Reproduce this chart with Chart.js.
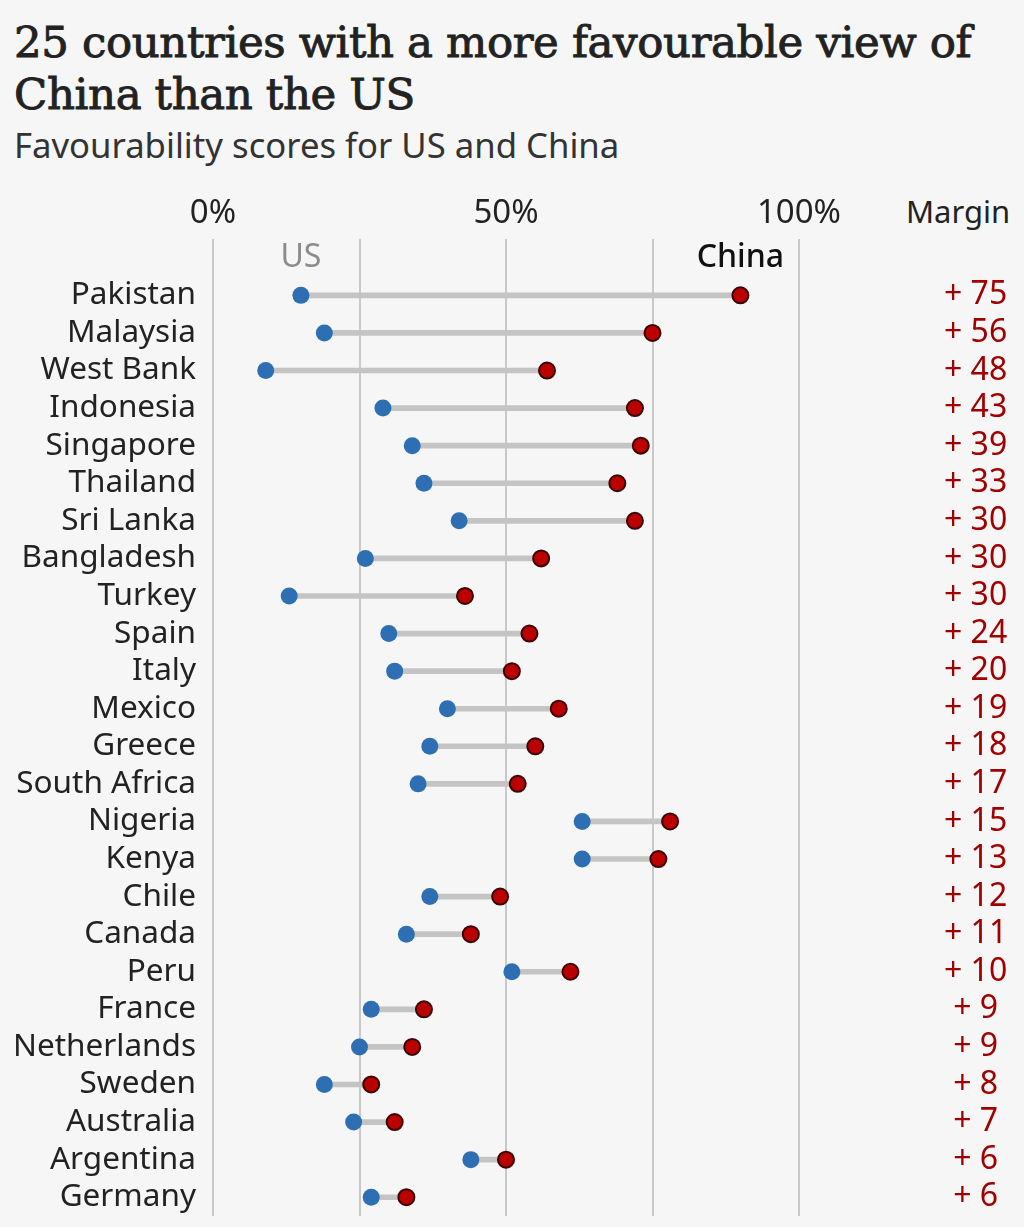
<!DOCTYPE html>
<html>
<head>
<meta charset="utf-8">
<script src="https://cdn.jsdelivr.net/npm/chart.js@4.4.1/dist/chart.umd.min.js"></script>
<style>
  html, body { margin: 0; padding: 0; background: #f6f6f6; }
  body { width: 1024px; height: 1227px; position: relative; overflow: hidden; }
  h1 {
    position: absolute; left: 14px; top: 16px; margin: 0;
    font-family: "DejaVu Serif", serif; font-weight: normal;
    font-size: 43.5px; line-height: 52px; color: #222; letter-spacing: -0.4px;
    -webkit-text-stroke: 0.9px #222;
  }
  .sub {
    position: absolute; left: 14px; top: 121px;
    font-family: "Noto Sans", sans-serif; font-size: 34.7px; color: #333;
  }
  .margin-head {
    position: absolute; left: 906px; top: 190px;
    font-family: "Noto Sans", sans-serif; font-size: 31px; color: #222;
  }
  #wrap { position: absolute; left: 0; top: 185px; width: 1024px; height: 1042px; }
</style>
</head>
<body>
<h1>25 countries with a more favourable view of<br>China than the US</h1>
<div class="sub">Favourability scores for US and China</div>
<div class="margin-head">Margin</div>
<div id="wrap"><canvas id="chart"></canvas></div>

<script>
// ── 数据 ──
var countries = ['Pakistan', 'Malaysia', 'West Bank', 'Indonesia', 'Singapore', 'Thailand',
  'Sri Lanka', 'Bangladesh', 'Turkey', 'Spain', 'Italy', 'Mexico', 'Greece', 'South Africa',
  'Nigeria', 'Kenya', 'Chile', 'Canada', 'Peru', 'France', 'Netherlands', 'Sweden',
  'Australia', 'Argentina', 'Germany'];
var usScores    = [15, 19, 9, 29, 34, 36, 42, 26, 13, 30, 31, 40, 37, 35, 63, 63, 37, 33, 51, 27, 25, 19, 24, 44, 27];
var chinaScores = [90, 75, 57, 72, 73, 69, 72, 56, 43, 54, 51, 59, 55, 52, 78, 76, 49, 44, 61, 36, 34, 27, 31, 50, 33];
var margins     = ['+ 75', '+ 56', '+ 48', '+ 43', '+ 39', '+ 33', '+ 30', '+ 30', '+ 30', '+ 24',
  '+ 20', '+ 19', '+ 18', '+ 17', '+ 15', '+ 13', '+ 12', '+ 11', '+ 10', '+ 9', '+ 9', '+ 8',
  '+ 7', '+ 6', '+ 6'];
var xTicks = [0, 50, 100];

// 顶部空一行放 US / China 标注
var rowLabels = [''].concat(countries);
var usData = [null].concat(usScores);
var chinaData = [null].concat(chinaScores);
var spanData = [null].concat(usScores.map(function(v, i) { return [v, chinaScores[i]]; }));

var FONT = '"Noto Sans", sans-serif';

// 竖轴的 tick padding 会被加到上下留白里，这里清掉
function noVPad(w) {
  return function(s) { s.width = w; s.paddingTop = 0; s.paddingBottom = 0; };
}

// ── 标注插件 ──
var legendLabels = {
  id: 'legendLabels',
  afterDatasetsDraw: function(chart) {
    var ctx = chart.ctx;
    var x = chart.scales.x, y = chart.scales.y;
    var yy = y.getPixelForValue(0);
    ctx.save();
    ctx.font = '32px ' + FONT;
    ctx.textAlign = 'center';
    ctx.textBaseline = 'middle';
    ctx.fillStyle = '#8c8c8c';
    ctx.fillText('US', x.getPixelForValue(usScores[0]), yy);
    ctx.fillStyle = '#111';
    ctx.font = '500 32px ' + FONT;
    ctx.fillText('China', x.getPixelForValue(chinaScores[0]), yy);
    ctx.restore();
  }
};

new Chart(document.getElementById('chart'), {
  type: 'bar',
  data: {
    labels: rowLabels,
    datasets: [
      {
        type: 'bar', indexAxis: 'y', data: spanData,
        backgroundColor: '#c4c4c4', barThickness: 5, order: 3
      },
      {
        type: 'line', indexAxis: 'y', data: usData, showLine: false,
        pointRadius: 8.5, pointBackgroundColor: '#2e6fb3', pointBorderWidth: 0, order: 2
      },
      {
        type: 'line', indexAxis: 'y', data: chinaData, showLine: false,
        pointRadius: 8, pointBackgroundColor: '#bb0000', pointBorderColor: '#3a0505',
        pointBorderWidth: 2, order: 1
      }
    ]
  },
  options: {
    indexAxis: 'y',
    responsive: true, maintainAspectRatio: false,
    animation: false,
    layout: { padding: { bottom: 11 } },
    plugins: { legend: { display: false }, tooltip: { enabled: false } },
    scales: {
      x: {
        position: 'top', min: 0, max: 100,
        afterBuildTicks: function(s) {
          s.ticks = [0, 25, 50, 75, 100].map(function(v) { return { value: v }; });
        },
        afterFit: function(s) { s.height = 54; s.paddingLeft = 0; s.paddingRight = 0; },
        ticks: {
          color: '#222', padding: 6, maxRotation: 0, autoSkip: false,
          font: { family: FONT, size: 33 },
          callback: function(v) { return xTicks.indexOf(v) >= 0 ? v + '%' : ''; }
        },
        grid: { color: '#c9c9c9', lineWidth: 2, drawTicks: false },
        border: { display: false }
      },
      y: {
        position: 'left', offset: true,
        afterFit: noVPad(213),
        ticks: { color: '#222', padding: 17, autoSkip: false, font: { family: FONT, size: 31.5 } },
        grid: { display: false, drawTicks: false },
        border: { display: false }
      },
      y2: {
        type: 'category', position: 'right', offset: true,
        labels: [''].concat(margins),
        afterFit: noVPad(225),
        ticks: {
          color: '#a00000', padding: 145, crossAlign: 'center', autoSkip: false,
          font: { family: FONT, size: 32 }
        },
        grid: { display: false, drawTicks: false },
        border: { display: false }
      }
    }
  },
  plugins: [legendLabels]
});
</script>
</body>
</html>
